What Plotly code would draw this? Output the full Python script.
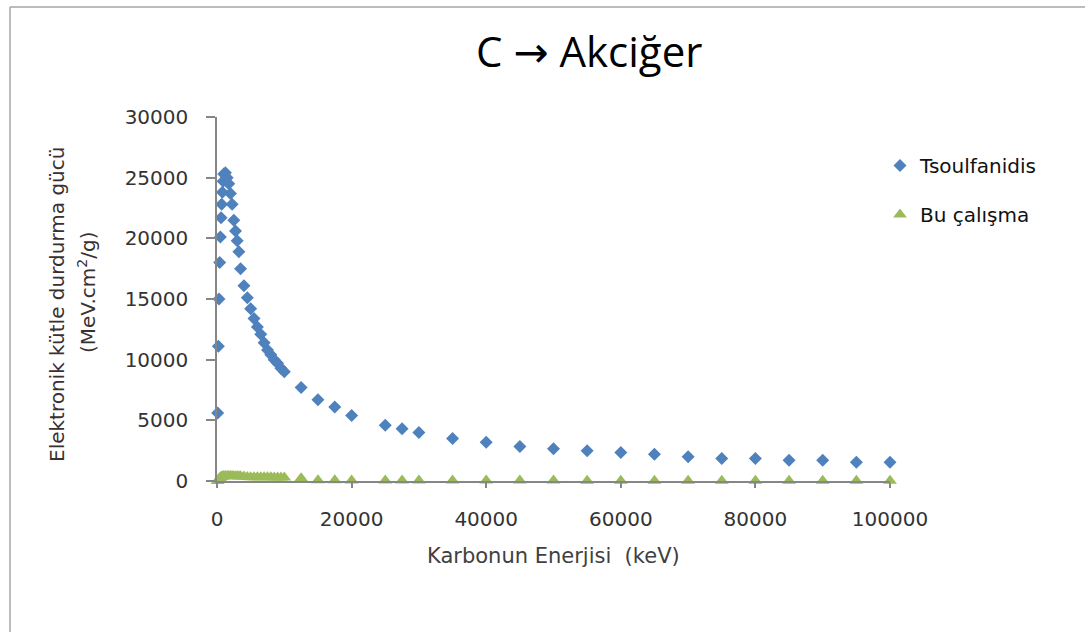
import plotly.graph_objects as go

energy_kev = [100, 200, 300, 400, 500, 600, 700, 800, 900, 1000,
              1250, 1500, 1750, 2000, 2250, 2500, 2750, 3000, 3250, 3500,
              4000, 4500, 5000, 5500, 6000, 6500, 7000, 7500, 8000, 8500,
              9000, 9500, 10000, 12500, 15000, 17500, 20000, 25000, 27500, 30000,
              35000, 40000, 45000, 50000, 55000, 60000, 65000, 70000, 75000, 80000,
              85000, 90000, 95000, 100000]

tsoulfanidis = [5600, 11100, 15000, 18000, 20100, 21700, 22800, 23800, 24700, 25300,
                25400, 25000, 24500, 23700, 22800, 21500, 20600, 19800, 18900, 17500,
                16100, 15100, 14200, 13400, 12700, 12100, 11400, 10800, 10400, 10000,
                9700, 9300, 9000, 7700, 6700, 6100, 5400, 4600, 4300, 4000,
                3500, 3200, 2850, 2650, 2500, 2350, 2200, 2000, 1850, 1850,
                1700, 1700, 1550, 1550]

bu_calisma = [0, 80, 160, 230, 290, 330, 360, 380, 400, 410,
              420, 420, 420, 410, 410, 400, 400, 400, 390, 390,
              380, 320, 310, 310, 300, 300, 300, 300, 300, 290,
              290, 290, 280, 220, 60, 55, 50, 45, 45, 40,
              40, 40, 35, 35, 30, 30, 30, 30, 30, 25,
              25, 25, 25, 20]

x_ticks = [0, 20000, 40000, 60000, 80000, 100000]
y_ticks = [0, 5000, 10000, 15000, 20000, 25000, 30000]

W, H = 1085, 632
L, R, T, B = 217, 1085 - 890, 117, 632 - 481
pw, ph = W - L - R, H - T - B

def px(xp):
    return (xp - L) / pw

def py(yp):
    return (H - B - yp) / ph

fig = go.Figure()
fig.add_trace(go.Scatter(
    x=energy_kev, y=tsoulfanidis, mode="markers", name="Tsoulfanidis",
    legendgroup="a", cliponaxis=False,
    marker=dict(symbol="diamond", size=10, color="#4F81BD"),
))
fig.add_trace(go.Scatter(
    x=energy_kev, y=bu_calisma, mode="markers", name="Bu çalışma",
    legendgroup="b", cliponaxis=False,
    marker=dict(symbol="triangle-up", size=12, color="#9BBB59"),
))

axis_col = "#868686"
tick_font = dict(family="DejaVu Sans", size=20, color="#333333")

fig.update_xaxes(
    range=[0, 100000], tickvals=x_ticks, ticktext=[str(v) for v in x_ticks],
    showgrid=False, zeroline=False, showline=True, linecolor=axis_col, linewidth=1.5,
    ticks="outside", ticklen=5, tickcolor=axis_col, tickwidth=1.5,
    tickfont=tick_font, ticklabelstandoff=14,
)
fig.update_yaxes(
    range=[0, 30000], tickvals=y_ticks, ticktext=[str(v) for v in y_ticks],
    showgrid=False, zeroline=False, showline=True, linecolor=axis_col, linewidth=1.5,
    ticks="outside", ticklen=9, tickcolor=axis_col, tickwidth=1.5,
    tickfont=tick_font, ticklabelstandoff=14,
)

annotations = [
    dict(text="C <span style='font-family:DejaVu Sans'>→</span> Akciğer",
         x=px(589), y=py(50), xref="paper", yref="paper",
         showarrow=False, xanchor="center", yanchor="middle",
         font=dict(family="Open Sans", size=42, color="#000000")),
    dict(text="Karbonun Enerjisi  (keV)", x=px(553), y=py(556), xref="paper", yref="paper",
         showarrow=False, xanchor="center", yanchor="middle",
         font=dict(family="DejaVu Sans", size=21, color="#404040")),
    dict(text="Elektronik kütle durdurma gücü", x=px(57), y=py(305), xref="paper", yref="paper",
         showarrow=False, xanchor="center", yanchor="middle", textangle=-90,
         font=dict(family="DejaVu Sans", size=20, color="#3a3030")),
    dict(text="(MeV.cm<sup>2</sup>/g)", x=px(87), y=py(293), xref="paper", yref="paper",
         showarrow=False, xanchor="center", yanchor="middle", textangle=-90,
         font=dict(family="DejaVu Sans", size=20, color="#3a3030")),
]

border_col = "#a6a6a6"
shapes = [
    dict(type="line", xref="paper", yref="paper", x0=px(10), x1=px(1085), y0=py(7), y1=py(7),
         line=dict(color=border_col, width=1.5)),
    dict(type="line", xref="paper", yref="paper", x0=px(10), x1=px(10), y0=py(7), y1=py(632),
         line=dict(color=border_col, width=1.5)),
]

fig.update_layout(
    width=W, height=H,
    margin=dict(l=L, r=R, t=T, b=B, pad=0),
    paper_bgcolor="white", plot_bgcolor="white",
    showlegend=True,
    legend=dict(x=px(880), y=py(146), xanchor="left", yanchor="top",
                traceorder="grouped", tracegroupgap=20,
                font=dict(family="DejaVu Sans", size=20, color="#111111"),
                bgcolor="rgba(0,0,0,0)"),
    annotations=annotations, shapes=shapes,
)

fig.write_html("out.html")
